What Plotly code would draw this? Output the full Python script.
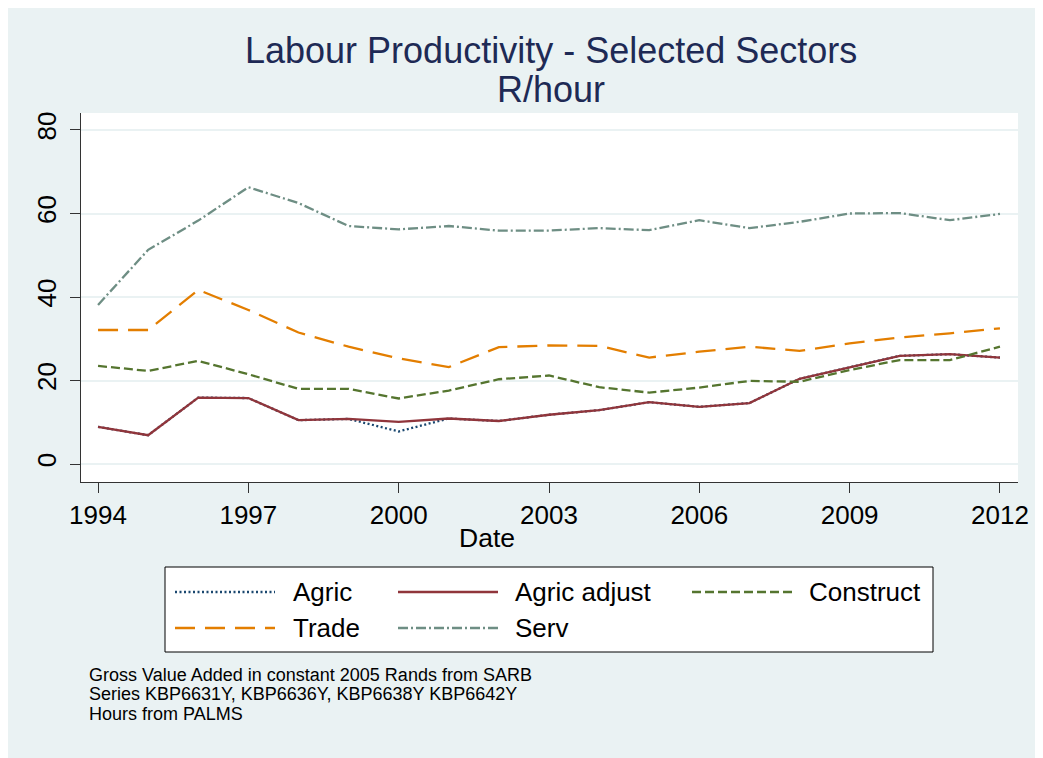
import plotly.graph_objects as go

# ---------------- data ----------------
years = list(range(1994, 2013))
agric = [8.9, 6.9, 15.9, 15.8, 10.5, 10.8, 7.8, 10.9, 10.3, 11.8,
         12.9, 14.8, 13.7, 14.6, 20.4, 23.2, 25.9, 26.3, 25.5]
agric_adjust = [8.9, 6.9, 15.9, 15.8, 10.5, 10.8, 10.1, 10.9, 10.3, 11.8,
                12.9, 14.8, 13.7, 14.6, 20.4, 23.2, 25.9, 26.3, 25.5]
construct = [23.5, 22.3, 24.7, 21.5, 18.0, 18.0, 15.7, 17.6, 20.3, 21.2,
             18.4, 17.1, 18.3, 19.9, 19.7, 22.5, 24.9, 24.9, 28.1]
trade = [32.1, 32.1, 41.7, 36.9, 31.5, 28.1, 25.3, 23.2, 28.0, 28.4,
         28.3, 25.5, 26.9, 28.1, 27.1, 28.9, 30.3, 31.3, 32.5]
serv = [38.1, 51.3, 58.3, 66.3, 62.5, 57.0, 56.2, 57.0, 55.9, 55.9,
        56.5, 56.0, 58.4, 56.5, 58.0, 60.0, 60.1, 58.4, 59.9]

series_names = ["Agric", "Agric adjust", "Construct", "Trade", "Serv"]
series_values = [agric, agric_adjust, construct, trade, serv]
x_ticks = [1994, 1997, 2000, 2003, 2006, 2009, 2012]
y_ticks = [0, 20, 40, 60, 80]
title_lines = ["Labour Productivity - Selected Sectors", "R/hour"]
notes = ["Gross Value Added in constant 2005 Rands from SARB",
         "Series KBP6631Y, KBP6636Y, KBP6638Y KBP6642Y",
         "Hours from PALMS"]

# ---------------- styles ----------------
colors = ["#1A476F", "#90353B", "#55752F", "#E37E00", "#6E8E84"]
dashes = ["2px,2.5px", "solid", "9px,4px", "20px,10px", "10px,3px,2px,3px"]
BG = "#EAF2F3"
FONT = "Liberation Sans, Arial, sans-serif"

OFF = 8  # page body margin
PW, PH = 1043, 758  # page size
W, H = PW - OFF, PH - OFF
# plot area in page pixels
PX0, PX1, PY0, PY1 = 81, 1018, 113, 482
X0, X1, Y0, Y1 = PX0 - OFF, PX1 - OFF, PY0 - OFF, PY1 - OFF


def fx(px):
    """page x pixel -> paper fraction"""
    return (px - OFF - X0) / (X1 - X0)


def fy(py):
    """page y pixel -> paper fraction"""
    return (Y1 - (py - OFF)) / (Y1 - Y0)


fig = go.Figure()
for name, vals, c, d in zip(series_names, series_values, colors, dashes):
    fig.add_trace(go.Scatter(x=years, y=vals, mode="lines", name=name,
                             line=dict(color=c, width=2.3, dash=d),
                             showlegend=False))

shapes = [
    dict(type="rect", xref="paper", yref="paper", x0=fx(0), x1=fx(PW + 10),
         y0=fy(PH + 10), y1=fy(0), fillcolor=BG, line=dict(width=0), layer="below"),
    dict(type="rect", xref="paper", yref="paper", x0=0, x1=1, y0=0, y1=1,
         fillcolor="white", line=dict(width=0), layer="below"),
    dict(type="rect", xref="paper", yref="paper", x0=fx(165), x1=fx(933),
         y0=fy(652), y1=fy(567), fillcolor="white",
         line=dict(color="black", width=1), layer="above"),
]
annotations = []

# manual legend (Stata style, 3 columns)
col_line_x = [175, 398, 692]
col_text_x = [291, 513, 807]
row_y = [592, 628]
for i, (name, c, d) in enumerate(zip(series_names, colors, dashes)):
    r, col = divmod(i, 3)
    lx = col_line_x[col]
    yy = fy(row_y[r])
    shapes.append(dict(type="line", xref="paper", yref="paper",
                       x0=fx(lx), x1=fx(lx + 100), y0=yy, y1=yy,
                       line=dict(color=c, width=2.3, dash=d), layer="above"))
    annotations.append(dict(text=name, xref="paper", yref="paper",
                            x=fx(col_text_x[col]), y=yy, xanchor="left",
                            yanchor="middle", showarrow=False,
                            font=dict(size=26, color="black", family=FONT)))

# title
for t, py in zip(title_lines, [51, 89]):
    annotations.append(dict(text=t, xref="paper", yref="paper", x=fx(551),
                            y=fy(py), xanchor="center", yanchor="middle",
                            showarrow=False,
                            font=dict(size=36, color="#1E2A55", family=FONT)))

# x title
annotations.append(dict(text="Date", xref="paper", yref="paper", x=fx(487),
                        y=fy(538), xanchor="center", yanchor="middle",
                        showarrow=False,
                        font=dict(size=26.5, color="black", family=FONT)))

# notes
for t, py in zip(notes, [675, 694, 714]):
    annotations.append(dict(text=t, xref="paper", yref="paper", x=fx(87),
                            y=fy(py), xanchor="left", yanchor="middle",
                            showarrow=False,
                            font=dict(size=18, color="black", family=FONT)))

fig.update_layout(
    width=W, height=H, autosize=False,
    margin=dict(l=X0, r=W - X1, t=Y0, b=H - Y1, pad=0),
    paper_bgcolor="white", plot_bgcolor="white",
    font=dict(family=FONT, color="black"),
    shapes=shapes, annotations=annotations,
    showlegend=False,
)
fig.update_xaxes(range=[1993.66, 2012.36], tickvals=x_ticks,
                 ticktext=[str(v) for v in x_ticks],
                 showgrid=False, zeroline=False, showline=True,
                 linecolor="#333333", linewidth=1, ticks="outside",
                 ticklen=10, tickwidth=1, tickcolor="#333333",
                 tickfont=dict(size=26, color="black", family=FONT),
                 ticklabelstandoff=0)
fig.update_yaxes(range=[-4.31, 84.07], tickvals=y_ticks,
                 showgrid=True, gridcolor=BG, gridwidth=2,
                 zeroline=False, showline=True,
                 linecolor="#333333", linewidth=1, ticks="outside",
                 ticklen=10, tickwidth=1, tickcolor="#333333",
                 tickangle=-90,
                 tickfont=dict(size=26, color="black", family=FONT),
                 ticklabelstandoff=4)

fig.write_html("out.html")
